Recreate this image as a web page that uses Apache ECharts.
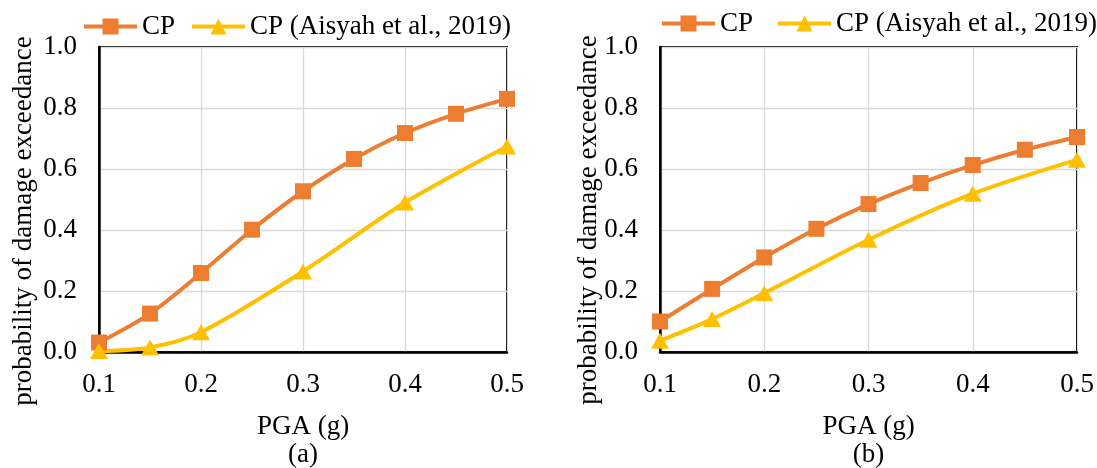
<!DOCTYPE html>
<html><head><meta charset="utf-8">
<script src="https://cdn.jsdelivr.net/npm/echarts@6/dist/echarts.min.js"></script>
<style>html,body{margin:0;padding:0;background:#fff}#c{width:1097px;height:468px}</style>
</head><body><div id="c"></div>
<script>
// PGA values (g)
const pga = [0.1, 0.15, 0.2, 0.25, 0.3, 0.35, 0.4, 0.45, 0.5];
const pgaAisyah = [0.1, 0.15, 0.2, 0.3, 0.4, 0.5];
// (a)
const cpA = [0.031, 0.126, 0.259, 0.401, 0.527, 0.633, 0.718, 0.781, 0.830];
const aisyahA = [0.003, 0.015, 0.065, 0.264, 0.490, 0.674];
// (b)
const cpB = [0.100, 0.207, 0.310, 0.404, 0.485, 0.554, 0.613, 0.663, 0.705];
const aisyahB = [0.037, 0.108, 0.193, 0.368, 0.519, 0.630];
// ticks
const xTicks = [0.1, 0.2, 0.3, 0.4, 0.5];
const yTicks = [0.0, 0.2, 0.4, 0.6, 0.8, 1.0];
const seriesNames = ['CP', 'CP (Aisyah et al., 2019)'];
const panelLabels = ['(a)', '(b)'];
const yTitle = 'probability of damage exceedance';

const FONT = 'Liberation Serif';
const FS = 27;
const ORANGE = '#ED7D31', YELLOW = '#FFC000';
const zip = (xs, ys) => xs.map((x, i) => [x, ys[i]]);

const grids = [
  {left: 99, top: 47, width: 408, height: 305},
  {left: 660, top: 47, width: 417, height: 305}
];
const yTitlePos = [[24, 221], [589, 220]];

function xAxis(i) {
  return {
    type: 'value', gridIndex: i,
    min: xTicks[0], max: xTicks[xTicks.length - 1], interval: 0.1,
    name: 'PGA (g)', nameLocation: 'middle', nameGap: 61,
    nameTextStyle: {fontFamily: FONT, fontSize: FS, color: '#000'},
    axisLine: {show: true, lineStyle: {color: '#000', width: 2.5}},
    axisTick: {show: false},
    axisLabel: {fontFamily: FONT, fontSize: FS, color: '#000', margin: 19,
      formatter: v => v.toFixed(1)},
    splitLine: {show: true, lineStyle: {color: '#d9d9d9', width: 1.3}}
  };
}
function yAxis(i) {
  return {
    type: 'value', gridIndex: i,
    min: yTicks[0], max: yTicks[yTicks.length - 1], interval: 0.2,
    axisLine: {show: true, lineStyle: {color: '#000', width: 2.5}},
    axisTick: {show: false},
    axisLabel: {fontFamily: FONT, fontSize: FS, color: '#000', margin: 22,
      formatter: v => v.toFixed(1)},
    splitLine: {show: true, lineStyle: {color: '#d9d9d9', width: 1.3}}
  };
}
function cpSeries(i, ys) {
  return {
    name: seriesNames[0], type: 'line', xAxisIndex: i, yAxisIndex: i,
    data: zip(pga, ys), smooth: 0.3, clip: false,
    symbol: 'rect', symbolSize: 16,
    lineStyle: {color: ORANGE, width: 4},
    itemStyle: {color: ORANGE}
  };
}
function aisSeries(i, ys) {
  return {
    name: seriesNames[1], type: 'line', xAxisIndex: i, yAxisIndex: i,
    data: zip(pgaAisyah, ys), smooth: 0.3, clip: false,
    symbol: 'triangle', symbolSize: [18, 16],
    lineStyle: {color: YELLOW, width: 4},
    itemStyle: {color: YELLOW}
  };
}
const legendBase = {
  data: seriesNames, itemWidth: 53, itemHeight: 20, padding: 0, width: 437,
  lineStyle: {width: 4},
  textStyle: {fontFamily: FONT, fontSize: FS, color: '#000'}
};

const graphics = [];
panelLabels.forEach((t, i) => {
  graphics.push({
    type: 'text',
    style: {text: t, x: grids[i].left + grids[i].width / 2, y: 455,
      textAlign: 'center', textVerticalAlign: 'middle',
      font: FS + 'px "' + FONT + '"', fill: '#000'}
  });
  graphics.push({
    type: 'text', x: yTitlePos[i][0], y: yTitlePos[i][1], rotation: Math.PI / 2,
    style: {text: yTitle, x: 0, y: 0,
      textAlign: 'center', textVerticalAlign: 'middle',
      font: FS + 'px "' + FONT + '"', fill: '#000'}
  });
});

const chart = echarts.init(document.getElementById('c'));
chart.setOption({
  animation: false,
  backgroundColor: '#fff',
  grid: grids.map(g => Object.assign({show: true, borderColor: '#000', borderWidth: 2, containLabel: false}, g)),
  xAxis: [xAxis(0), xAxis(1)],
  yAxis: [yAxis(0), yAxis(1)],
  legend: [
    Object.assign({left: 82, top: 13, itemGap: 15}, legendBase),
    Object.assign({left: 660, top: 10, itemGap: 23}, legendBase)
  ],
  graphic: graphics,
  series: [cpSeries(0, cpA), aisSeries(0, aisyahA), cpSeries(1, cpB), aisSeries(1, aisyahB)]
});
</script></body></html>
